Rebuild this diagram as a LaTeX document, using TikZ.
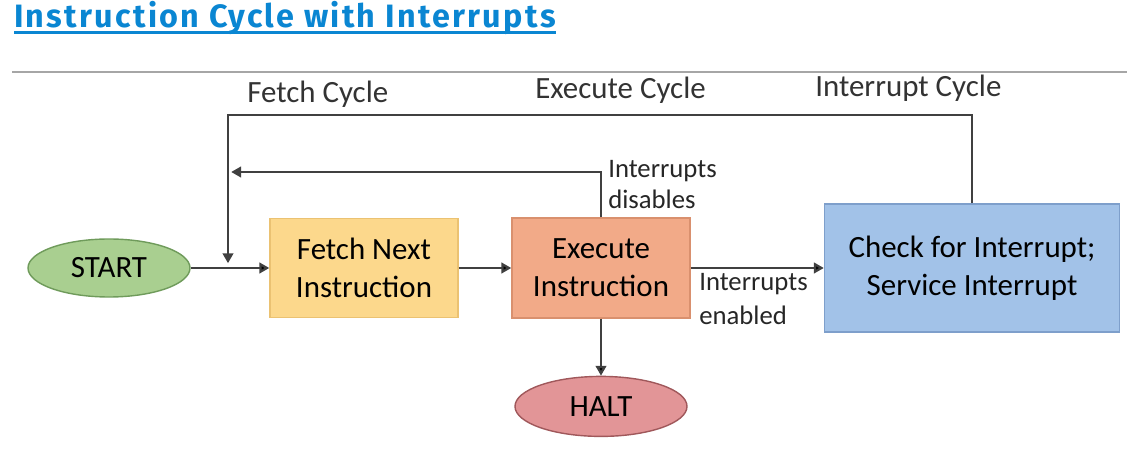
\documentclass[tikz,border=0pt]{standalone}
\usepackage{fontspec}
\setmainfont{Carlito}
\newfontfamily\titlefont[LetterSpace=7]{Fira Sans}
\usepackage{tikz}
\usetikzlibrary{positioning, arrows.meta, shapes.geometric}

\definecolor{titleblue}{HTML}{0A86D2}
\definecolor{flowgray}{HTML}{404040}
\definecolor{startfill}{HTML}{A9CF90}
\definecolor{startdraw}{HTML}{6F9B5B}
\definecolor{fetchfill}{HTML}{FCD88C}
\definecolor{fetchdraw}{HTML}{EBC272}
\definecolor{execfill}{HTML}{F2AA88}
\definecolor{execdraw}{HTML}{D9906E}
\definecolor{checkfill}{HTML}{A2C2E8}
\definecolor{checkdraw}{HTML}{7E9FCB}
\definecolor{haltfill}{HTML}{E29597}
\definecolor{haltdraw}{HTML}{A0585B}

\tikzset{
    stage/.style={
        rectangle,
        line width=1pt,
        align=center,
        inner sep=0pt,
        font=\fontsize{22}{27}\selectfont
    },
    terminal/.style={
        ellipse,
        line width=1pt,
        inner sep=0pt,
        font=\fontsize{22}{27}\selectfont
    },
    flow/.style={
        draw=flowgray,
        line width=1.6pt,
        -{Triangle[length=7pt,width=7.5pt]}
    },
    cyclelabel/.style={
        inner sep=0pt,
        anchor=base west,
        text=black!80,
        font=\fontsize{22}{27}\selectfont
    },
    switchlabel/.style={
        inner sep=0pt,
        anchor=north west,
        align=left,
        text=black!85
    }
}

\begin{document}
\begin{tikzpicture}[node distance = 3cm, on grid]
            \useasboundingbox (0,0) rectangle (28.625,-11.9);

            % Heading
            \node (title) [
                anchor=base west,
                inner sep=0pt,
                text=titleblue,
                font=\titlefont\bfseries\fontsize{23}{26}\selectfont
            ] at (0.35,-0.69) {Instruction Cycle with Interrupts};
            \draw [titleblue, line width=1.6pt]
                ([yshift=-3.4pt]title.base west) -- ([yshift=-3.4pt]title.base east);
            \draw [black!35, line width=1.4pt] (0.3,-1.8) -- (28.175,-1.8);

            % States
            \node (start) [
                terminal,
                fill=startfill,
                draw=startdraw,
                minimum width=4.05cm,
                minimum height=1.45cm
            ] at (2.725,-6.7) {START};
            \node (fetch) [
                stage,
                fill=fetchfill,
                draw=fetchdraw,
                minimum width=4.7cm,
                minimum height=2.475cm,
                right = 6.375cm of start
            ] {Fetch Next\\Instruction};
            \node (exec) [
                stage,
                fill=execfill,
                draw=execdraw,
                minimum width=4.45cm,
                minimum height=2.5cm,
                right = 5.925cm of fetch
            ] {Execute\\Instruction};
            \node (check) [
                stage,
                fill=checkfill,
                draw=checkdraw,
                minimum width=7.375cm,
                minimum height=3.2cm,
                right = 9.275cm of exec
            ] {Check for Interrupt;\\Service Interrupt};
            \node (halt) [
                terminal,
                fill=haltfill,
                draw=haltdraw,
                minimum width=4.3cm,
                minimum height=1.5cm,
                below = 3.46cm of exec
            ] {HALT};

            % Cycle names
            \node (fetchname) [cyclelabel] at (6.175,-2.575) {Fetch Cycle};
            \node (execname) [cyclelabel] at (13.375,-2.475) {Execute Cycle};
            \node (intname) [cyclelabel] at (20.375,-2.425) {Interrupt Cycle};

            % Switch labels
            \node (disabled) [
                switchlabel,
                font=\fontsize{19}{22}\selectfont
            ] at (15.2,-4.0) {Interrupts\\disables};
            \node (enabled) [
                switchlabel,
                font=\fontsize{19}{24.5}\selectfont
            ] at (17.475,-6.825) {Interrupts\\enabled};

            % Loop corners
            \coordinate (fcorner) at (5.7,-2.875);
            \coordinate (fdrop) at (5.7,-6.58);
            \coordinate (dend) at (5.78,-4.3);

            % Main flow
            \path [flow]
                (start) edge (fetch)
                (fetch) edge (exec)
                (exec) edge (check)
                (exec) edge (halt)
            ;

            % Back to fetch
            \draw [flow] (check.north) |- (fcorner) -- (fdrop);
            \draw [flow] (exec.north) |- (dend);
        \end{tikzpicture}
\end{document}
